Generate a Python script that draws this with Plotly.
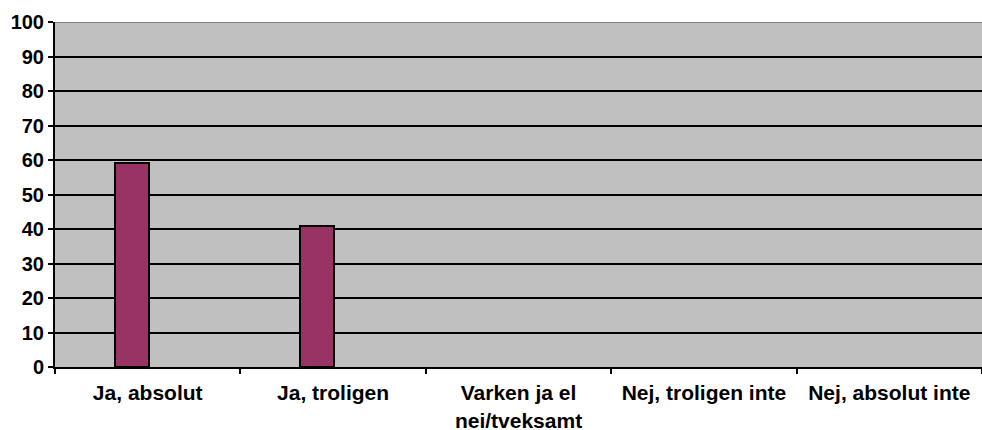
import plotly.graph_objects as go

categories = ["Ja, absolut", "Ja, troligen", "Varken ja el<br>nei/tveksamt", "Nej, troligen inte", "Nej, absolut inte"]
values = [59, 41, None, None, None]
y_ticks = [0, 10, 20, 30, 40, 50, 60, 70, 80, 90, 100]

yfont = dict(family="Liberation Sans, Arial, sans-serif", size=20, color="black", weight="bold")
xfont = dict(family="Liberation Sans, Arial, sans-serif", size=21, color="black", weight="bold")

fig = go.Figure()
fig.add_trace(go.Bar(
    x=categories, y=values,
    width=0.183, offset=-0.178,
    marker=dict(color="#993366", line=dict(color="black", width=2)),
    hoverinfo="x+y",
))

fig.update_layout(
    width=982, height=430,
    margin=dict(l=55, r=0, t=22, b=63),
    paper_bgcolor="white",
    plot_bgcolor="#C0C0C0",
    showlegend=False,
    bargap=0,
)
fig.update_yaxes(
    range=[0, 100], tickvals=y_ticks, ticktext=[str(v) for v in y_ticks],
    showgrid=True, gridcolor="black", gridwidth=2,
    zeroline=False, showline=True, linecolor="black", linewidth=2,
    ticks="outside", ticklen=5, tickwidth=2, tickcolor="black",
    tickfont=yfont, automargin=False,
)
fig.update_xaxes(
    type="category", tickson="boundaries",
    showgrid=False, zeroline=False, showline=True, linecolor="black", linewidth=2,
    ticks="outside", ticklen=5, tickwidth=2, tickcolor="black",
    tickfont=xfont, automargin=False, ticklabelstandoff=6,
)
fig.add_shape(type="line", xref="paper", yref="y", x0=0, x1=1, y0=100, y1=100,
              line=dict(color="#808080", width=2))

fig.write_html("out.html", config={"displayModeBar": False},
               post_script="document.body.style.margin='0';document.body.style.overflow='hidden';")
